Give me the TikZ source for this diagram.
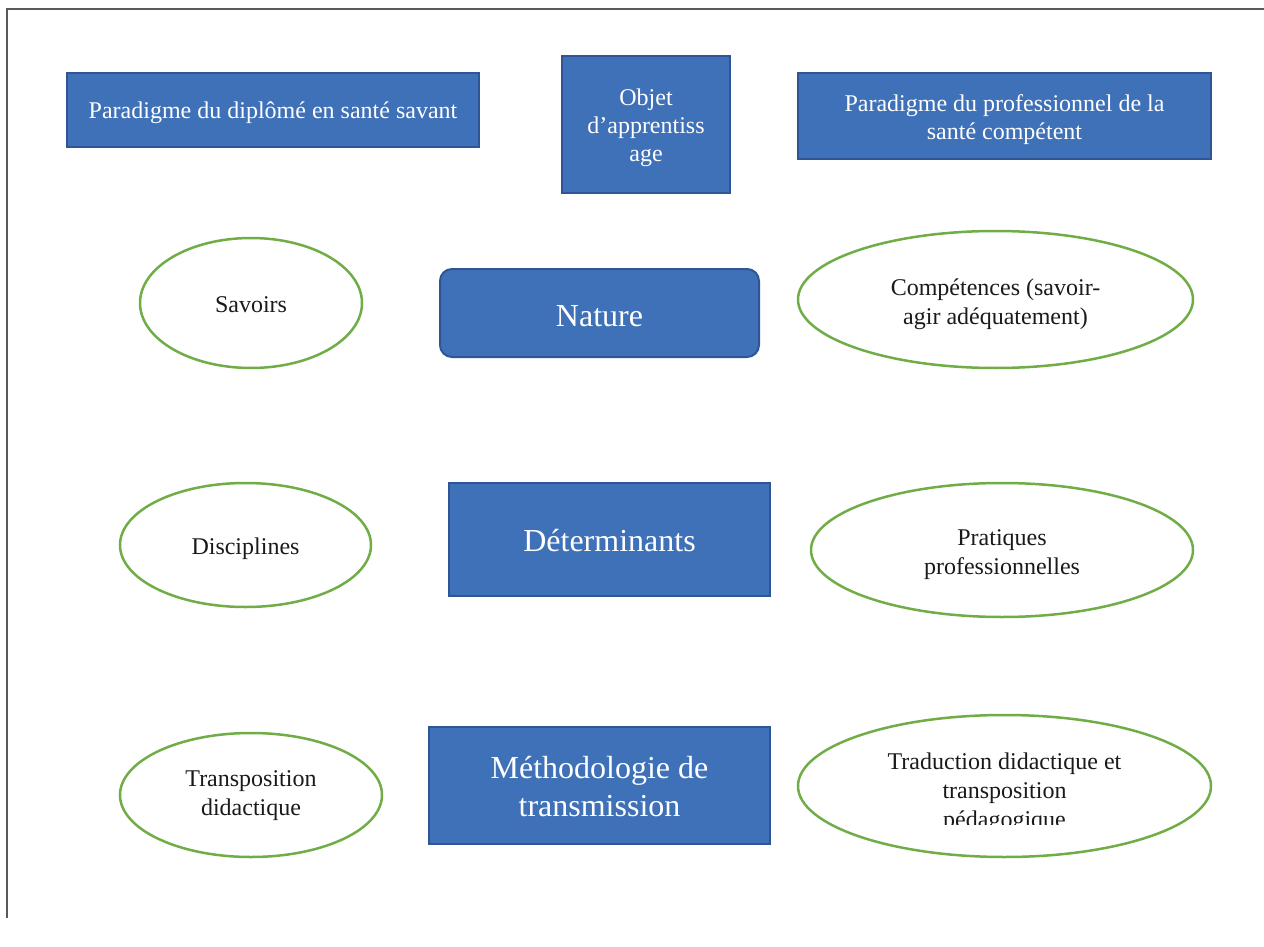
\documentclass[tikz,border=0pt]{standalone}
\usepackage{fontspec}
\setmainfont{Liberation Serif}
\usetikzlibrary{shapes.geometric}
\definecolor{boxfill}{HTML}{3F71B8}
\definecolor{boxline}{HTML}{2F5597}
\definecolor{ellline}{HTML}{70AD47}
\definecolor{frameline}{HTML}{5A5A5A}
\definecolor{txtdark}{HTML}{1A1A1A}
\tikzset{
  bluebox/.style={draw=boxline, fill=boxfill, line width=2pt, inner sep=0pt},
  greenell/.style={ellipse, draw=ellline, line width=2.5pt, fill=white, inner sep=0pt},
  wtxt/.style={inner sep=0pt, align=center, text=white, font=\fontsize{24}{28}\selectfont},
  wbig/.style={inner sep=0pt, align=center, text=white, font=\fontsize{32}{38}\selectfont},
  dtxt/.style={inner sep=0pt, align=center, text=txtdark, font=\fontsize{24}{29}\selectfont}
}
\begin{document}
\begin{tikzpicture}[x=1pt, y=-1pt]
\useasboundingbox (0,0) rectangle (1264,947);
% frame
\coordinate (ftop) at (1264,9);
\coordinate (fcorner) at (7,9);
\coordinate (fbottom) at (7,918);
\draw[frameline, line width=1.5pt] (ftop) -- (fcorner) -- (fbottom);

% top row
\node[bluebox, minimum width=412pt, minimum height=74pt] (p1) at (273,110) {};
\node[wtxt] (p1t) at ([yshift=-3pt]p1.center) {Paradigme du diplômé en santé savant};
\node[bluebox, minimum width=168pt, minimum height=136pt] (obj) at (646,124.5) {};
\node[wtxt] (objt) at ([yshift=-3.5pt]obj.center) {Objet\\d’apprentiss\\age};
\node[bluebox, minimum width=413pt, minimum height=86pt] (p2) at (1004.5,116.5) {};
\node[wtxt] (p2t) at ([yshift=-3pt]p2.center) {Paradigme du professionnel de la\\santé compétent};

% row 2
\node[greenell, minimum width=222pt, minimum height=130pt] (sav) at (251,303) {};
\node[dtxt] (savt) at ([yshift=-2pt]sav.center) {Savoirs};
\node[bluebox, rounded corners=12pt, minimum width=319pt, minimum height=88pt] (nat) at (599.5,313) {};
\node[wbig] (natt) at ([yshift=-3pt]nat.center) {Nature};
\node[greenell, minimum width=395pt, minimum height=137pt] (comp) at (995.5,299.5) {};
\node[dtxt] (compt) at ([yshift=-4.5pt]comp.center) {Compétences (savoir-\\agir adéquatement)};

% row 3
\node[greenell, minimum width=251pt, minimum height=124pt] (disc) at (245.5,545) {};
\node[dtxt] (disct) at ([yshift=-4pt]disc.center) {Disciplines};
\node[bluebox, minimum width=321pt, minimum height=113pt] (det) at (609.5,539.5) {};
\node[wbig] (dett) at ([yshift=-1.5pt]det.center) {Déterminants};
\node[greenell, minimum width=382pt, minimum height=134pt] (prat) at (1002,550) {};
\node[dtxt] (pratt) at ([yshift=-4.5pt]prat.center) {Pratiques\\professionnelles};

% row 4
\node[greenell, minimum width=262pt, minimum height=124pt] (trans) at (251,795) {};
\node[dtxt] (transt) at ([yshift=-1pt]trans.center) {Transposition\\didactique};
\node[bluebox, minimum width=341pt, minimum height=117pt] (meth) at (599.5,785.5) {};
\node[wbig] (metht) at ([yshift=-1pt]meth.center) {Méthodologie de\\transmission};
\node[greenell, minimum width=413pt, minimum height=142pt] (trad) at (1004.5,786) {};
\begin{scope}
  \clip (790,700) rectangle (1220,824);
  \node[dtxt] (tradt) at ([yshift=-7pt]trad.center) {Traduction didactique et\\transposition\\pédagogique};
\end{scope}
\end{tikzpicture}
\end{document}
